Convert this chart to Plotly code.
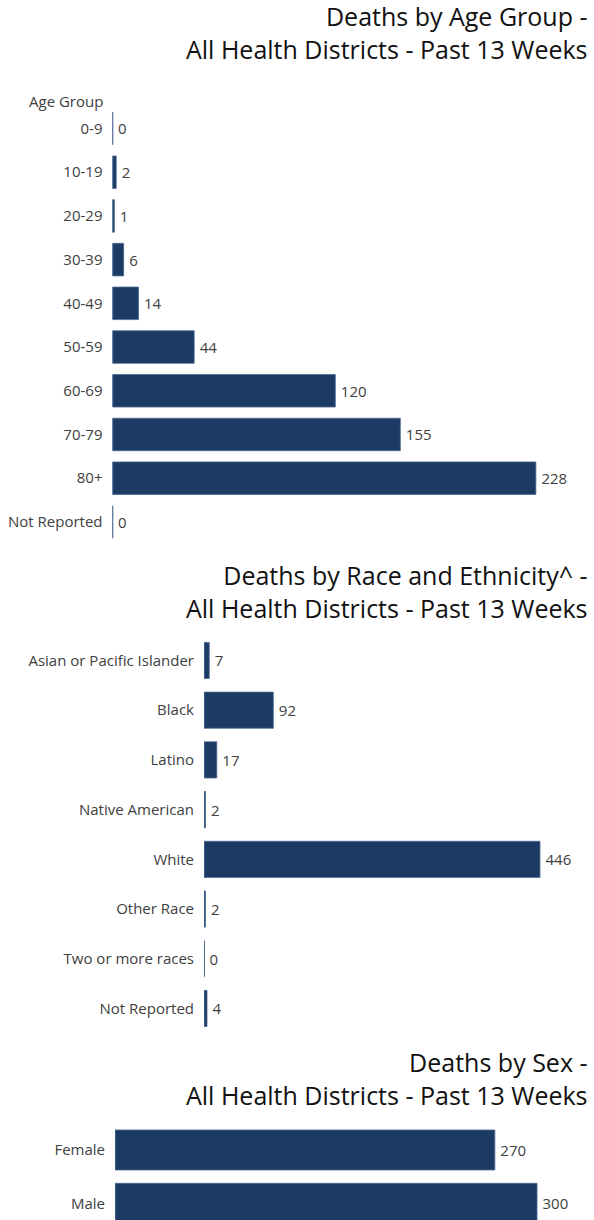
import plotly.graph_objects as go

W, H = 594, 1220
FONT = "Open Sans"
BAR = "#1b3a64"
EDGE = "#4d6a92"
TXT = "#404040"

age_groups = ["0-9", "10-19", "20-29", "30-39", "40-49", "50-59", "60-69", "70-79", "80+", "Not Reported"]
age_deaths = [0, 2, 1, 6, 14, 44, 120, 155, 228, 0]

race_groups = ["Asian or Pacific Islander", "Black", "Latino", "Native American", "White",
               "Other Race", "Two or more races", "Not Reported"]
race_deaths = [7, 92, 17, 2, 446, 2, 0, 4]

sex_groups = ["Female", "Male"]
sex_deaths = [270, 300]

titles = [
    "Deaths by Age Group -<br>All Health Districts - Past 13 Weeks",
    "Deaths by Race and Ethnicity^ -<br>All Health Districts - Past 13 Weeks",
    "Deaths by Sex -<br>All Health Districts - Past 13 Weeks",
]

fig = go.Figure()

panels = [
    dict(cats=age_groups, vals=age_deaths, width=0.744, xa="x", ya="y",
         xdom=[112.5 / W, 1], xmax=259.3, ydom=[0.5543, 0.9126], yrange=None),
    dict(cats=race_groups, vals=race_deaths, width=0.727, xa="x2", ya="y2",
         xdom=[204 / W, 1], xmax=517.7, ydom=[0.1530, 0.4790], yrange=None),
    dict(cats=sex_groups, vals=sex_deaths, width=0.75, xa="x3", ya="y3",
         xdom=[115 / W, 1], xmax=340.5, ydom=[0.0, 1 - 1123.3 / H], yrange=[1.3125, -0.5]),
]

for i, p in enumerate(panels):
    idx = list(range(len(p["cats"])))
    fig.add_trace(go.Bar(
        x=p["vals"], y=idx, orientation="h", width=p["width"],
        marker=dict(color=BAR, line=dict(color=EDGE, width=0.8)),
        text=["\u2009" + str(v) for v in p["vals"]], textposition="outside",
        textfont=dict(family=FONT, size=15, color=TXT),
        cliponaxis=False, xaxis=p["xa"], yaxis=p["ya"], hoverinfo="skip",
    ))
    # thin baseline segment for each bar (visible where value is zero)
    lx, ly = [], []
    for j in idx:
        lx += [0, 0, None]
        ly += [j - p["width"] / 2, j + p["width"] / 2, None]
    fig.add_trace(go.Scatter(
        x=lx, y=ly, mode="lines", line=dict(color="#3f5f8a", width=1.6),
        xaxis=p["xa"], yaxis=p["ya"], hoverinfo="skip", cliponaxis=False,
    ))
    n = len(p["cats"])
    suffix = "" if i == 0 else str(i + 1)
    fig.layout["xaxis" + suffix] = dict(
        domain=p["xdom"], range=[0, p["xmax"]], visible=False, fixedrange=True,
        anchor="y" + suffix,
    )
    fig.layout["yaxis" + suffix] = dict(
        domain=p["ydom"],
        range=p["yrange"] if p["yrange"] else [n - 0.5, -0.5],
        tickmode="array", tickvals=idx, ticktext=p["cats"],
        showgrid=False, zeroline=False, showline=False,
        ticks="outside", ticklen=6, tickcolor="rgba(0,0,0,0)",
        tickfont=dict(family=FONT, size=15, color=TXT),
        anchor="x" + suffix, fixedrange=True,
    )

title_mid = [32.5, 591.5, 1078.5]
for t, yc in zip(titles, title_mid):
    fig.add_annotation(
        text=t, xref="paper", yref="paper", x=590 / W, y=1 - yc / H,
        xanchor="right", yanchor="middle", align="right", showarrow=False,
        font=dict(family=FONT, size=25, color="#111111"),
    )

fig.add_annotation(
    text="Age Group", xref="paper", yref="paper", x=105 / W, y=1 - 101 / H,
    xanchor="right", yanchor="middle", showarrow=False,
    font=dict(family=FONT, size=15, color=TXT),
)

fig.update_layout(
    width=W, height=H, margin=dict(l=0, r=0, t=0, b=0),
    paper_bgcolor="white", plot_bgcolor="white", showlegend=False,
    bargap=0.26,
)

fig.write_html("out.html")
